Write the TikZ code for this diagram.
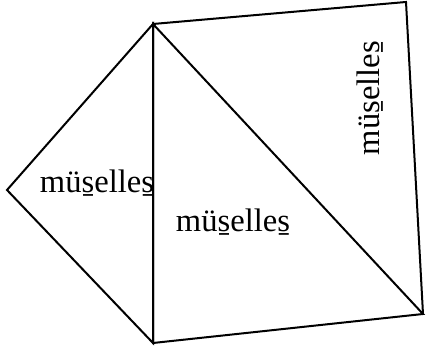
\documentclass[tikz,border=0pt]{standalone}
\usepackage{fontspec}
\setmainfont{Liberation Serif}
\usetikzlibrary{positioning}

\begin{document}
\begin{tikzpicture}[x=0.5pt, y=-0.5pt, line width=1pt, line join=miter,
    lbl/.style={font=\fontsize{16.3}{19}\selectfont, inner sep=0pt}]
  \useasboundingbox (0,0) rectangle (428,346);

  % corners
  \coordinate (top) at (153,24);
  \coordinate (left) at (7,190);
  \coordinate (bot) at (153,343);
  \coordinate (rbot) at (423,314);
  \coordinate (rtop) at (406,2);

  % faces
  \draw (top) -- (left) -- (bot) -- cycle;
  \draw (top) -- (bot) -- (rbot) -- cycle;
  \draw (top) -- (rtop) -- (rbot);

  % labels
  \node[lbl] (lleft) at (97,183) {müs̱elles̱};
  \node[lbl] (lmid) at (233,222) {müs̱elles̱};
  \node[lbl, rotate=90] (lright) at (370,98) {müs̱elles̱};
\end{tikzpicture}
\end{document}
